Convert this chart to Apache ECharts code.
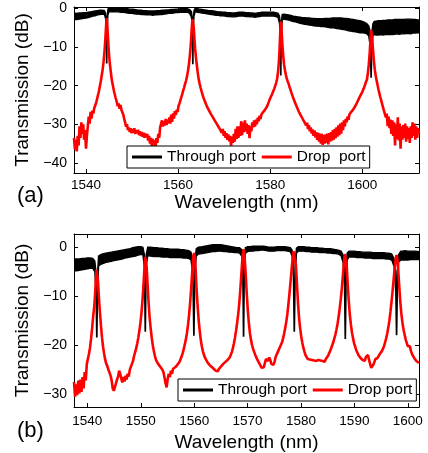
<!DOCTYPE html>
<html><head><meta charset="utf-8">
<script src="https://cdn.jsdelivr.net/npm/echarts@6/dist/echarts.min.js"></script>
<style>html,body{margin:0;padding:0;background:#fff}#c{width:428px;height:453px}</style>
</head><body><div id="c"></div>
<script>
const FONT = '"Liberation Sans", Arial, Helvetica, sans-serif';
const aXTicks = [1540, 1560, 1580, 1600];
const aYTicks = [-40, -30, -20, -10, 0];
const bXTicks = [1540, 1550, 1560, 1570, 1580, 1590, 1600];
const bYTicks = [-30, -20, -10, 0];
const legendA = ['Through port', 'Drop  port'];
const legendB = ['Through port', 'Drop port'];
const panelLabels = ['(a)', '(b)'];
const xTitle = 'Wavelength (nm)';
const yTitle = 'Transmission (dB)';

// (a) through port: noisy trace read as a band [wavelength nm, upper dB, lower dB]
const aThrough = [
[1537.4,-1.2,-2.9],[1538.0,-1.3,-2.9],[1538.5,-1.2,-2.8],[1539.0,-1.2,-2.7],[1539.5,-1.1,-2.6],[1540.0,-1.1,-2.5],[1540.5,-1.0,-2.4],[1541.0,-0.9,-2.2],
[1541.5,-0.8,-2.0],[1542.0,-0.7,-1.9],[1542.5,-0.6,-1.7],[1543.0,-0.5,-1.6],[1543.5,-0.5,-1.5],[1544.0,-0.6,-1.6],[1544.25,-1.2,-2.6],[1544.42,-3,-6],
[1544.47,-14.1,-14.1],[1544.53,-14.1,-14.1],[1544.58,-3,-6],[1544.75,-0.3,-1.8],[1545.0,0.3,-0.8],[1545.5,0.2,-0.9],[1546.0,0.3,-0.8],[1546.5,0.2,-0.9],
[1547.0,0.2,-0.9],[1547.5,0.1,-1.0],[1548.0,0.1,-1.0],[1548.5,0.0,-1.1],[1549.0,-0.1,-1.2],[1549.5,-0.2,-1.3],[1550.0,-0.2,-1.3],[1550.5,-0.3,-1.4],
[1551.0,-0.4,-1.5],[1551.5,-0.5,-1.5],[1552.0,-0.5,-1.6],[1552.5,-0.6,-1.6],[1553.0,-0.6,-1.7],[1553.5,-0.7,-1.7],[1554.0,-0.7,-1.7],[1554.5,-0.7,-1.8],
[1555.0,-0.7,-1.7],[1555.5,-0.6,-1.7],[1556.0,-0.6,-1.6],[1556.5,-0.5,-1.6],[1557.0,-0.5,-1.5],[1557.5,-0.4,-1.4],[1558.0,-0.4,-1.3],[1558.5,-0.3,-1.3],
[1559.0,-0.3,-1.2],[1559.5,-0.2,-1.1],[1560.0,-0.2,-1.1],[1560.5,-0.1,-1.0],[1561.0,-0.1,-1.0],[1561.5,-0.1,-1.0],[1562.0,-0.1,-1.0],[1562.5,-0.3,-1.3],
[1562.9,-0.8,-2.3],[1563.12,-3,-6],[1563.17,-14.3,-14.3],[1563.23,-14.3,-14.3],[1563.28,-3,-6],[1563.45,-0.6,-2.0],[1563.7,0.0,-0.9],[1564.2,-0.1,-1.0],
[1564.7,-0.2,-1.1],[1565.2,-0.3,-1.2],[1565.7,-0.4,-1.3],[1566.2,-0.5,-1.4],[1566.7,-0.6,-1.5],[1567.2,-0.6,-1.6],[1567.7,-0.7,-1.7],[1568.2,-0.8,-1.8],
[1568.7,-0.9,-1.8],[1569.2,-0.9,-1.9],[1569.7,-1.0,-1.9],[1570.2,-1.0,-2.0],[1570.7,-1.1,-2.1],[1571.2,-1.1,-2.1],[1571.7,-1.2,-2.2],[1572.2,-1.2,-2.2],
[1572.7,-1.1,-2.1],[1573.2,-1.0,-2.0],[1573.7,-1.0,-2.0],[1574.2,-1.0,-2.0],[1574.7,-1.1,-2.1],[1575.2,-1.1,-2.1],[1575.7,-1.2,-2.2],[1576.2,-1.2,-2.2],
[1576.7,-1.3,-2.3],[1577.2,-1.2,-2.2],[1577.7,-1.1,-2.1],[1578.2,-1.0,-2.0],[1578.7,-1.0,-2.0],[1579.2,-1.0,-2.0],[1579.7,-1.0,-2.0],[1580.2,-1.0,-2.0],
[1580.7,-1.0,-2.0],[1581.2,-1.1,-2.1],[1581.7,-1.3,-2.4],[1582.0,-2.0,-3.8],[1582.22,-4,-8],[1582.27,-17.2,-17.2],[1582.33,-17.2,-17.2],[1582.38,-4,-8],
[1582.6,-1.6,-3.0],[1582.9,-1.5,-2.8],[1583.4,-1.6,-2.9],[1584.0,-1.7,-3.0],[1584.5,-1.8,-3.2],[1585.0,-2.0,-3.4],[1585.5,-2.1,-3.5],[1586.0,-2.2,-3.7],
[1586.5,-2.3,-3.9],[1587.0,-2.4,-4.0],[1587.5,-2.4,-4.1],[1588.0,-2.5,-4.2],[1588.5,-2.5,-4.3],[1589.0,-2.6,-4.4],[1589.5,-2.6,-4.5],[1590.0,-2.7,-4.6],
[1590.5,-2.7,-4.6],[1591.0,-2.7,-4.7],[1591.5,-2.7,-4.7],[1592.0,-2.6,-4.8],[1592.5,-2.6,-4.9],[1593.0,-2.6,-5.0],[1593.5,-2.5,-5.0],[1594.0,-2.5,-5.1],
[1594.5,-2.5,-5.2],[1595.0,-2.5,-5.3],[1595.5,-2.5,-5.4],[1596.0,-2.6,-5.5],[1596.5,-2.6,-5.6],[1597.0,-2.7,-5.8],[1597.5,-2.8,-5.9],[1598.0,-2.9,-6.0],
[1598.5,-3.0,-6.1],[1599.0,-3.1,-6.2],[1599.5,-3.2,-6.3],[1600.0,-3.4,-6.3],[1600.5,-3.6,-6.4],[1601.0,-4.0,-6.6],[1601.4,-4.6,-7.2],[1601.72,-6,-10],
[1601.87,-17.8,-17.8],[1601.93,-17.8,-17.8],[1602.08,-6,-10],[1602.3,-4.0,-7.0],[1602.6,-3.4,-6.8],[1603.0,-3.3,-6.9],[1603.5,-3.2,-6.9],[1604.0,-3.2,-6.8],
[1604.5,-3.1,-6.9],[1605.0,-3.1,-6.8],[1605.5,-3.0,-6.8],[1606.0,-3.0,-6.7],[1606.5,-3.0,-6.8],[1607.0,-2.9,-6.7],[1607.5,-2.9,-6.6],[1608.0,-2.9,-6.7],
[1608.5,-2.9,-6.6],[1609.0,-2.9,-6.6],[1609.5,-2.8,-6.5],[1610.0,-2.8,-6.5],[1610.5,-2.8,-6.6],[1611.0,-2.9,-6.4],[1611.5,-2.9,-6.4],[1612.0,-3.0,-6.3],
[1612.3,-3.0,-6.3]
];

// (a) drop port [wavelength nm, dB]
const aDrop = [
[1537.4,-33.5],[1537.6,-36.5],[1537.8,-34],[1538.0,-37],[1538.2,-33],[1538.4,-35.5],[1538.6,-30.5],[1538.8,-33.5],[1539.0,-29.5],[1539.2,-32.5],
[1539.4,-30],[1539.6,-34],[1539.8,-31.5],[1540.0,-36.3],[1540.2,-33],[1540.4,-30.5],[1540.6,-28],[1540.8,-29.8],[1541.0,-26.8],[1541.2,-28.5],
[1541.4,-26.5],[1541.6,-27.2],[1541.8,-25.8],[1542.0,-26.2],[1542.2,-24.5],[1542.4,-24.8],[1542.6,-22.5],[1542.8,-21.5],[1543.0,-20.2],[1543.2,-19],
[1543.4,-17.5],[1543.6,-16],[1543.8,-14],[1544.0,-11.5],[1544.15,-9],[1544.3,-6],[1544.42,-3.5],[1544.5,-2.5],[1544.58,-3.5],[1544.7,-6],
[1544.85,-9],[1545.0,-12],[1545.2,-14.5],[1545.4,-16.5],[1545.6,-18.5],[1545.85,-20],[1546.1,-21.5],[1546.4,-23],[1546.7,-24.3],[1546.9,-25.3],
[1547.1,-24.6],[1547.3,-26],[1547.5,-25],[1547.7,-26.3],[1547.9,-25.8],[1548.1,-27.5],[1548.3,-28.6],[1548.5,-29.5],[1548.7,-30.6],[1548.9,-30],
[1549.1,-31.5],[1549.3,-30.8],[1549.5,-32],[1549.7,-31],[1549.9,-32.3],[1550.1,-31.2],[1550.3,-32.2],[1550.5,-31],[1550.7,-32.5],[1550.9,-31.5],
[1551.1,-32.3],[1551.3,-31.4],[1551.5,-32.8],[1551.7,-31.8],[1551.9,-33],[1552.1,-32],[1552.3,-33.2],[1552.5,-32.2],[1552.7,-33.5],[1552.9,-32.4],
[1553.1,-33.3],[1553.3,-32.5],[1553.5,-34.2],[1553.7,-33],[1553.9,-35],[1554.1,-33.5],[1554.3,-35.8],[1554.5,-33.8],[1554.7,-35.5],[1554.9,-34.2],
[1555.1,-36],[1555.3,-33.6],[1555.5,-34.8],[1555.7,-32.5],[1555.9,-33.5],[1556.1,-30.8],[1556.3,-31.2],[1556.5,-29],[1556.7,-30.6],[1556.9,-29.2],
[1557.1,-30.3],[1557.3,-28.6],[1557.5,-30.2],[1557.7,-28.8],[1557.9,-29.8],[1558.1,-28.2],[1558.3,-29.8],[1558.5,-27.5],[1558.7,-29.4],[1558.9,-27.2],
[1559.1,-28.5],[1559.3,-26.6],[1559.5,-27.6],[1559.7,-26.2],[1559.9,-26.8],[1560.1,-25.2],[1560.3,-24.6],[1560.5,-23.8],[1560.7,-23],[1560.9,-22.2],
[1561.1,-21.3],[1561.3,-20.5],[1561.5,-19.6],[1561.7,-18.8],[1561.9,-17.8],[1562.1,-16.5],[1562.3,-15],[1562.5,-12.8],[1562.7,-10.2],[1562.85,-7.5],
[1563.0,-4.5],[1563.12,-2.8],[1563.2,-2.5],[1563.28,-3],[1563.4,-5],[1563.55,-8],[1563.7,-10.5],[1563.9,-13],[1564.1,-15],[1564.3,-17],
[1564.5,-18.5],[1564.7,-19.6],[1564.9,-20.6],[1565.1,-21.5],[1565.3,-22.3],[1565.5,-23.1],[1565.7,-23.7],[1565.9,-24.3],[1566.1,-24.8],[1566.3,-25.5],
[1566.5,-25.8],[1566.7,-26.4],[1566.9,-26.6],[1567.1,-27.3],[1567.3,-27.2],[1567.5,-28.1],[1567.7,-28.0],[1567.9,-28.9],[1568.1,-28.7],[1568.3,-29.7],
[1568.5,-29.4],[1568.7,-30.5],[1568.9,-30.1],[1569.1,-31.3],[1569.3,-30.8],[1569.5,-32.2],[1569.7,-31.2],[1569.9,-33],[1570.1,-31.8],[1570.3,-33.5],
[1570.5,-32.3],[1570.7,-34],[1570.9,-32.6],[1571.1,-34.4],[1571.3,-33],[1571.5,-35.5],[1571.7,-33.2],[1571.9,-34.8],[1572.1,-32.5],[1572.3,-34.5],
[1572.5,-31.2],[1572.7,-33.8],[1572.9,-30.5],[1573.1,-33.5],[1573.3,-30.5],[1573.5,-33],[1573.7,-29.2],[1573.9,-32.8],[1574.1,-29.6],[1574.3,-32],
[1574.5,-29],[1574.7,-31.8],[1574.9,-29.8],[1575.1,-32.5],[1575.3,-30.2],[1575.5,-33.6],[1575.7,-30.5],[1575.9,-31.8],[1576.1,-29.5],[1576.3,-30.8],
[1576.5,-29],[1576.7,-30.6],[1576.9,-28.8],[1577.1,-30],[1577.3,-28.3],[1577.5,-29.2],[1577.7,-27.8],[1577.9,-28.6],[1578.1,-27.4],[1578.3,-27.9],
[1578.5,-26.8],[1578.7,-27],[1578.9,-26.2],[1579.1,-26.2],[1579.3,-25.4],[1579.5,-24.8],[1579.7,-24.2],[1579.9,-23.5],[1580.1,-23],[1580.3,-22.5],
[1580.5,-21.9],[1580.7,-21.3],[1580.9,-20.7],[1581.1,-20],[1581.3,-19.2],[1581.5,-18.2],[1581.7,-16.5],[1581.9,-13.5],[1582.05,-10],[1582.15,-7],
[1582.25,-4],[1582.32,-3.4],[1582.4,-4],[1582.5,-6.5],[1582.65,-9.5],[1582.8,-12],[1583.0,-14.5],[1583.2,-16],[1583.4,-17.2],[1583.6,-18.2],
[1583.8,-18.9],[1584.0,-19.5],[1584.2,-20.4],[1584.4,-21],[1584.6,-21.8],[1584.8,-22.5],[1585.0,-23.2],[1585.2,-23.7],[1585.4,-24.4],[1585.6,-24.8],
[1585.8,-25.6],[1586.0,-25.8],[1586.2,-26.7],[1586.4,-26.8],[1586.6,-27.6],[1586.8,-27.6],[1587.0,-28.5],[1587.2,-28.3],[1587.4,-29.4],[1587.6,-29.0],
[1587.8,-30.3],[1588.0,-29.6],[1588.2,-31.2],[1588.4,-30.2],[1588.6,-31.8],[1588.8,-30.8],[1589.0,-32.4],[1589.2,-31.3],[1589.4,-33],[1589.6,-31.6],
[1589.8,-33.4],[1590.0,-32],[1590.2,-34],[1590.4,-32.2],[1590.6,-34.5],[1590.8,-32.4],[1591.0,-35],[1591.2,-32.5],[1591.4,-35.3],[1591.6,-32.8],
[1591.8,-35],[1592.0,-32.6],[1592.2,-34.8],[1592.4,-32.4],[1592.6,-35.2],[1592.8,-32.3],[1593.0,-34.5],[1593.2,-32],[1593.4,-34.2],[1593.6,-31.5],
[1593.8,-34],[1594.0,-31.2],[1594.2,-33.6],[1594.4,-30.8],[1594.6,-33.2],[1594.8,-30.3],[1595.0,-32.8],[1595.2,-29.8],[1595.4,-32.4],[1595.6,-29.5],
[1595.8,-31.5],[1596.0,-29],[1596.2,-30.5],[1596.4,-28.6],[1596.6,-29.5],[1596.8,-28],[1597.0,-28.8],[1597.2,-27.4],[1597.4,-27.8],[1597.6,-26.8],
[1597.8,-26.9],[1598.0,-26.2],[1598.2,-26],[1598.4,-25.4],[1598.6,-25],[1598.8,-24.5],[1599.0,-24],[1599.2,-23.5],[1599.4,-23],[1599.6,-22.5],
[1599.8,-22],[1600.0,-21.6],[1600.2,-21.0],[1600.4,-20.4],[1600.6,-19.7],[1600.8,-19],[1601.0,-18.4],[1601.2,-16.8],[1601.4,-14.5],[1601.6,-11.5],
[1601.75,-8.5],[1601.88,-5.6],[1601.95,-5.1],[1602.02,-5.6],[1602.15,-8],[1602.3,-10.5],[1602.5,-13.5],[1602.7,-15.8],[1602.9,-17.4],[1603.1,-18.7],
[1603.3,-19.8],[1603.5,-21],[1603.7,-22],[1603.9,-23],[1604.1,-23.8],[1604.3,-24.8],[1604.5,-25.2],[1604.7,-26.5],[1604.9,-26],[1605.1,-28.2],
[1605.3,-27.2],[1605.5,-30.5],[1605.7,-28],[1605.9,-31],[1606.1,-28.8],[1606.3,-32.5],[1606.5,-29],[1606.7,-33],[1606.9,-29.5],[1607.1,-35.5],
[1607.3,-30],[1607.5,-33.8],[1607.7,-28.2],[1607.9,-34.2],[1608.1,-29.8],[1608.3,-36.3],[1608.5,-30.5],[1608.7,-34],[1608.9,-30.2],[1609.1,-33.5],
[1609.3,-29.8],[1609.5,-34.5],[1609.7,-30.5],[1609.9,-33.8],[1610.1,-31],[1610.3,-34.8],[1610.5,-30.5],[1610.7,-33.5],[1610.9,-29.5],[1611.1,-33],
[1611.3,-29.8],[1611.5,-34],[1611.7,-30.5],[1611.9,-33.5],[1612.1,-31],[1612.3,-32.5]
];

// (b) through port band [wavelength nm, upper dB, lower dB]
const bThrough = [
[1537.5,-2.4,-4.8],[1538.0,-2.4,-4.8],[1538.5,-2.4,-4.7],[1539.0,-2.3,-4.6],[1539.5,-2.3,-4.5],[1540.0,-2.2,-4.4],[1540.5,-2.2,-4.3],[1541.0,-2.3,-4.3],
[1541.4,-2.8,-5.0],[1541.62,-5,-9],[1541.74,-18.3,-18.3],[1541.8,-18.3,-18.3],[1541.92,-5,-9],[1542.1,-1.8,-3.8],[1542.5,-1.5,-3.5],[1543.0,-1.3,-3.3],
[1543.5,-1.2,-3.1],[1544.0,-1.1,-3.0],[1544.5,-1.0,-2.9],[1545.0,-0.9,-2.7],[1545.5,-0.8,-2.6],[1546.0,-0.7,-2.5],[1546.5,-0.6,-2.4],[1547.0,-0.5,-2.2],
[1547.5,-0.4,-2.1],[1548.0,-0.3,-2.0],[1548.5,-0.1,-1.9],[1549.0,0.0,-1.8],[1549.5,0.1,-1.6],[1550.0,0.1,-1.5],[1550.4,0.0,-1.5],[1550.68,-1.5,-4],
[1550.82,-17.1,-17.1],[1550.88,-17.1,-17.1],[1551.02,-1.5,-4],[1551.3,0.0,-1.7],[1551.8,0.0,-1.8],[1552.5,-0.1,-1.9],[1553.0,-0.1,-1.9],[1553.5,-0.2,-1.9],
[1554.0,-0.2,-2.0],[1554.5,-0.3,-2.0],[1555.0,-0.3,-2.0],[1555.5,-0.4,-2.1],[1556.0,-0.4,-2.1],[1556.5,-0.4,-2.1],[1557.0,-0.4,-2.1],[1557.5,-0.5,-2.1],
[1558.0,-0.5,-2.2],[1558.5,-0.6,-2.2],[1559.0,-0.7,-2.3],[1559.4,-1.0,-2.6],[1559.75,-2.5,-5.5],[1559.92,-17.9,-17.9],[1559.98,-17.9,-17.9],[1560.15,-2.5,-5],
[1560.4,-0.3,-1.8],[1560.8,0.0,-1.4],[1561.5,0.1,-1.3],[1562.0,0.2,-1.2],[1562.5,0.3,-1.1],[1563.0,0.4,-1.0],[1563.5,0.5,-0.9],[1564.0,0.5,-0.9],
[1564.5,0.5,-0.8],[1565.0,0.5,-0.8],[1565.5,0.4,-0.9],[1566.0,0.3,-0.9],[1566.5,0.2,-1.0],[1567.0,0.1,-1.0],[1567.5,0.0,-1.1],[1568.0,-0.1,-1.1],
[1568.5,-0.1,-1.2],[1568.9,-0.5,-1.8],[1569.1,-2.5,-5],[1569.22,-18.1,-18.1],[1569.28,-18.1,-18.1],[1569.4,-2.5,-5],[1569.6,-0.1,-1.2],[1570.0,0.1,-0.9],
[1570.5,0.1,-0.8],[1571.0,0.2,-0.8],[1571.5,0.2,-0.7],[1572.0,0.2,-0.7],[1572.5,0.2,-0.6],[1573.0,0.2,-0.6],[1573.5,0.1,-0.7],[1574.0,0.0,-0.8],
[1574.5,0.0,-0.8],[1575.0,0.0,-0.8],[1575.5,0.1,-0.7],[1576.0,0.1,-0.7],[1576.5,0.1,-0.7],[1577.0,0.1,-0.7],[1577.5,0.0,-0.8],[1578.0,-0.1,-0.9],
[1578.35,-0.6,-1.8],[1578.58,-3,-6],[1578.72,-17.1,-17.1],[1578.78,-17.1,-17.1],[1578.92,-3,-6],[1579.15,-0.2,-1.2],[1579.5,0.1,-0.8],[1580.0,0.1,-0.8],
[1580.5,0.1,-0.8],[1581.0,0.0,-0.9],[1581.5,0.0,-0.9],[1582.0,-0.1,-1.0],[1582.5,-0.1,-1.0],[1583.0,-0.1,-1.0],[1583.5,-0.2,-1.1],[1584.0,-0.2,-1.1],
[1584.5,-0.3,-1.1],[1585.0,-0.3,-1.2],[1585.5,-0.3,-1.2],[1586.0,-0.4,-1.3],[1586.5,-0.5,-1.3],[1587.0,-0.6,-1.4],[1587.5,-0.8,-1.7],[1587.9,-1.6,-3.2],
[1588.15,-4,-8],[1588.27,-18.6,-18.6],[1588.33,-18.6,-18.6],[1588.45,-4,-8],[1588.65,-1.2,-2.6],[1589.0,-0.8,-2.0],[1589.5,-0.8,-2.0],[1590.0,-0.8,-2.0],
[1590.5,-0.9,-2.1],[1591.0,-0.9,-2.1],[1591.5,-1.0,-2.1],[1592.0,-1.0,-2.2],[1592.5,-1.0,-2.2],[1593.0,-1.0,-2.2],[1593.5,-1.1,-2.3],[1594.0,-1.1,-2.3],
[1594.5,-1.1,-2.3],[1595.0,-1.1,-2.3],[1595.5,-1.1,-2.3],[1596.0,-1.2,-2.4],[1596.5,-1.2,-2.4],[1597.0,-1.4,-2.6],[1597.45,-2.4,-4],[1597.75,-5,-9],
[1597.87,-17.8,-17.8],[1597.93,-17.8,-17.8],[1598.05,-5,-9],[1598.3,-1.5,-3],[1598.7,-0.8,-2.6],[1599.0,-0.8,-2.6],[1599.5,-0.7,-2.6],[1600.0,-0.8,-2.6],
[1600.5,-0.8,-2.5],[1601.0,-0.8,-2.5],[1601.5,-0.8,-2.5],[1602.1,-0.9,-2.5]
];

// (b) drop port [wavelength nm, dB]
const bDrop = [
[1537.5,-27.5],[1537.7,-30.5],[1537.9,-28],[1538.1,-30.2],[1538.3,-27.2],[1538.5,-29.8],[1538.7,-27],[1538.9,-29.5],[1539.1,-26.5],[1539.3,-28.8],
[1539.5,-25.5],[1539.7,-27.2],[1539.9,-23.8],[1540.1,-24.2],[1540.3,-21.8],[1540.5,-20.5],[1540.7,-18.6],[1540.9,-16.5],[1541.1,-14],[1541.3,-12],
[1541.45,-9.5],[1541.6,-6.5],[1541.72,-4.6],[1541.8,-4.3],[1541.88,-4.6],[1542.0,-7],[1542.15,-10],[1542.35,-13.2],[1542.55,-16],[1542.75,-18.5],
[1542.95,-20.4],[1543.15,-21.8],[1543.35,-23],[1543.55,-23.8],[1543.75,-24.3],[1543.95,-25],[1544.15,-25.3],[1544.35,-26.2],[1544.55,-27.2],[1544.75,-28.8],
[1544.95,-29.3],[1545.15,-28.6],[1545.35,-27.8],[1545.55,-27],[1545.75,-26.4],[1545.95,-25.2],[1546.15,-25.8],[1546.35,-26.8],[1546.55,-27.6],[1546.75,-26.5],
[1546.95,-27.4],[1547.15,-26.2],[1547.35,-27],[1547.55,-25.8],[1547.75,-26.4],[1547.95,-25],[1548.15,-24.8],[1548.35,-23.8],[1548.55,-23.2],[1548.75,-22.2],
[1548.95,-21.4],[1549.15,-20.6],[1549.35,-19.6],[1549.55,-18.4],[1549.75,-17],[1549.95,-15.3],[1550.15,-13.2],[1550.35,-10.5],[1550.55,-7],[1550.7,-4],
[1550.82,-2],[1550.9,-1.6],[1550.98,-2],[1551.1,-4],[1551.25,-7],[1551.45,-11],[1551.65,-14.2],[1551.85,-16.5],[1552.05,-18.4],[1552.25,-20],
[1552.45,-21.2],[1552.65,-22.2],[1552.85,-23],[1553.05,-23.4],[1553.25,-23.8],[1553.45,-24.1],[1553.65,-24.4],[1553.85,-24.2],[1554.05,-25],[1554.25,-25.5],
[1554.45,-26.6],[1554.65,-27.8],[1554.85,-28.6],[1555.05,-26.8],[1555.25,-25.8],[1555.45,-26.5],[1555.65,-25.2],[1555.85,-25.8],[1556.05,-24.8],[1556.25,-25.2],
[1556.45,-24.5],[1556.65,-24.8],[1556.85,-24],[1557.05,-24.2],[1557.25,-23.4],[1557.45,-23.2],[1557.65,-22.3],[1557.85,-21.6],[1558.05,-20.8],[1558.25,-19.8],
[1558.45,-18.8],[1558.65,-17.5],[1558.85,-15.8],[1559.05,-13.8],[1559.25,-11.3],[1559.45,-8.2],[1559.65,-4.8],[1559.85,-1.8],[1560.0,-1.2],[1560.15,-2],
[1560.3,-5],[1560.45,-8.5],[1560.65,-12],[1560.85,-15],[1561.05,-17.2],[1561.25,-19],[1561.45,-20.3],[1561.65,-21.3],[1561.85,-22],[1562.05,-22.6],
[1562.25,-23],[1562.45,-23.4],[1562.65,-23.6],[1562.85,-24],[1563.05,-24.2],[1563.25,-24.4],[1563.45,-24.7],[1563.65,-24.8],[1563.85,-25],[1564.05,-25.2],
[1564.25,-25],[1564.45,-25.3],[1564.65,-24.8],[1564.85,-24.6],[1565.05,-24.3],[1565.25,-24],[1565.45,-23.8],[1565.65,-23.5],[1565.85,-23.4],[1566.05,-23.2],
[1566.25,-23],[1566.45,-22.8],[1566.65,-22.5],[1566.85,-22],[1567.05,-21.4],[1567.25,-20.6],[1567.45,-19.6],[1567.65,-18.4],[1567.85,-17],[1568.05,-15.4],
[1568.25,-13.6],[1568.45,-11.4],[1568.65,-8.6],[1568.85,-5.2],[1569.05,-2],[1569.25,-0.4],[1569.45,-2],[1569.65,-5.5],[1569.85,-9.5],[1570.05,-13],
[1570.25,-15.6],[1570.45,-17.6],[1570.65,-19],[1570.85,-20],[1571.05,-20.8],[1571.25,-21.4],[1571.45,-22],[1571.65,-22.5],[1571.85,-23],[1572.05,-23.4],
[1572.25,-23.8],[1572.45,-24.2],[1572.65,-24.6],[1572.85,-24.2],[1573.05,-24.5],[1573.25,-23.6],[1573.45,-22.8],[1573.65,-22.6],[1573.85,-23.2],[1574.05,-22.5],
[1574.25,-23],[1574.45,-23.8],[1574.65,-24.2],[1574.85,-24],[1575.05,-23.4],[1575.25,-22.4],[1575.45,-22],[1575.65,-21.4],[1575.85,-21],[1576.05,-20.4],
[1576.25,-20],[1576.45,-19.4],[1576.65,-18.6],[1576.85,-17.6],[1577.05,-16.5],[1577.25,-15.2],[1577.45,-13.6],[1577.65,-11.6],[1577.85,-9.4],[1578.05,-7],
[1578.25,-4.5],[1578.45,-2.2],[1578.6,-0.8],[1578.75,-0.5],[1578.9,-1.2],[1579.05,-3.5],[1579.25,-7.5],[1579.45,-11.5],[1579.65,-14.5],[1579.85,-16.6],
[1580.05,-18.2],[1580.25,-19.5],[1580.45,-20.5],[1580.65,-21.3],[1580.85,-22],[1581.05,-22.4],[1581.25,-22.8],[1581.45,-22.5],[1581.65,-22.9],[1581.85,-22.6],
[1582.05,-23],[1582.25,-22.6],[1582.45,-23.1],[1582.65,-22.7],[1582.85,-23.2],[1583.05,-22.8],[1583.25,-23],[1583.45,-22.6],[1583.65,-23.1],[1583.85,-22.7],
[1584.05,-23.2],[1584.25,-22.8],[1584.45,-23.4],[1584.65,-22.8],[1584.85,-23],[1585.05,-22.2],[1585.25,-21.8],[1585.45,-21.2],[1585.65,-20.6],[1585.85,-20],
[1586.05,-19.4],[1586.25,-18.6],[1586.45,-17.8],[1586.65,-16.8],[1586.85,-15.6],[1587.05,-14.2],[1587.25,-12.5],[1587.45,-10.6],[1587.65,-8.4],[1587.85,-5.8],
[1588.05,-3.2],[1588.2,-1.4],[1588.3,-1.0],[1588.4,-1.4],[1588.55,-3.5],[1588.75,-7.5],[1588.95,-11],[1589.15,-13.8],[1589.35,-15.8],[1589.55,-17.4],
[1589.75,-18.6],[1589.95,-19.6],[1590.15,-20.3],[1590.35,-21],[1590.55,-21.5],[1590.75,-22],[1590.95,-22.3],[1591.15,-22.6],[1591.35,-22.4],[1591.55,-23],
[1591.75,-22.6],[1591.95,-23.2],[1592.15,-22.4],[1592.35,-22.8],[1592.55,-22],[1592.75,-23],[1592.95,-23.8],[1593.15,-24.6],[1593.35,-24.8],[1593.55,-24],
[1593.75,-23.4],[1593.95,-22.8],[1594.15,-23.2],[1594.35,-22.6],[1594.55,-22.2],[1594.75,-21.8],[1594.95,-21.6],[1595.15,-21.2],[1595.35,-20.8],[1595.55,-20.2],
[1595.75,-19.4],[1595.95,-18.6],[1596.15,-17.6],[1596.35,-16.4],[1596.55,-15],[1596.75,-13.2],[1596.95,-11.2],[1597.15,-9],[1597.35,-6.6],[1597.55,-4.2],
[1597.75,-2.2],[1597.9,-1.6],[1598.05,-2.4],[1598.2,-4.5],[1598.4,-8],[1598.6,-11.2],[1598.8,-13.6],[1599.0,-15.4],[1599.2,-16.8],[1599.4,-17.8],
[1599.6,-18.8],[1599.8,-19.5],[1600.0,-20.2],[1600.2,-20.6],[1600.4,-20.2],[1600.6,-21.2],[1600.8,-21.8],[1601.0,-21.4],[1601.2,-22.6],[1601.4,-22.2],
[1601.6,-23.2],[1601.8,-22.8],[1602.1,-23.6]
];

const minusFmt = v => (v < 0 ? '\u2212' + Math.abs(v) : String(v));
const plainFmt = v => String(v);
const txt = (size) => ({ color: '#000', fontFamily: FONT, fontSize: size });
const lineBlack = { color: '#000', width: 1 };

function xAxes(grid, min, max, ticks, labelMargin, nameGap) {
  return [
    { gridIndex: grid, type: 'value', min, max, position: 'bottom',
      axisLine: { onZero: false, lineStyle: lineBlack },
      axisTick: { inside: true, length: 4, customValues: ticks, lineStyle: lineBlack },
      axisLabel: { customValues: ticks, margin: labelMargin, formatter: plainFmt, ...txt(13.5) },
      splitLine: { show: false },
      name: xTitle, nameLocation: 'middle', nameGap, nameTextStyle: txt(19) },
    { gridIndex: grid, type: 'value', min, max, position: 'top',
      axisLine: { onZero: false, lineStyle: lineBlack },
      axisTick: { inside: true, length: 4, customValues: ticks, lineStyle: lineBlack },
      axisLabel: { show: false }, splitLine: { show: false } }
  ];
}
function yAxes(grid, min, max, ticks) {
  return [
    { gridIndex: grid, type: 'value', min, max, position: 'left',
      axisLine: { onZero: false, lineStyle: lineBlack },
      axisTick: { inside: true, length: 4, customValues: ticks, lineStyle: lineBlack },
      axisLabel: { customValues: ticks, margin: 7, formatter: minusFmt, ...txt(14) },
      splitLine: { show: false },
      name: yTitle, nameLocation: 'middle', nameGap: 36, nameTextStyle: txt(19) },
    { gridIndex: grid, type: 'value', min, max, position: 'right',
      axisLine: { onZero: false, lineStyle: lineBlack },
      axisTick: { inside: true, length: 4, customValues: ticks, lineStyle: lineBlack },
      axisLabel: { show: false }, splitLine: { show: false } }
  ];
}
function legend(names, left, top) {
  return { data: names, left, top, orient: 'horizontal', icon: 'rect', itemWidth: 30, itemHeight: 3,
    itemGap: 6, borderColor: '#000', borderWidth: 1, borderRadius: 0, backgroundColor: '#fff',
    padding: [3, 4, 3, 5], selectedMode: false, textStyle: txt(15.5) };
}
function line(name, data, xi, yi, color, width, z) {
  return { type: 'line', name, data, xAxisIndex: xi, yAxisIndex: yi, showSymbol: false, symbol: 'none',
    sampling: null, clip: true, z, lineStyle: { color, width }, itemStyle: { color }, emphasis: { disabled: true } };
}
// noisy band drawn as a polygon through the axes' own scales (upper edge forward, lower edge back)
function band(name, rows, xi, yi, z) {
  return { type: 'custom', name, xAxisIndex: xi, yAxisIndex: yi, z,
    data: [[rows[0][0], rows[0][1]]], itemStyle: { color: '#000' }, silent: true,
    renderItem: (params, api) => {
      const pts = [];
      for (let i = 0; i < rows.length; i++) pts.push(api.coord([rows[i][0], rows[i][1]]));
      for (let i = rows.length - 1; i >= 0; i--) pts.push(api.coord([rows[i][0], rows[i][2]]));
      const cs = params.coordSys;
      return { type: 'polygon', shape: { points: pts },
        style: { fill: '#000', stroke: '#000', lineWidth: 1.4 },
        clipPath: { type: 'rect', shape: { x: cs.x, y: cs.y, width: cs.width, height: cs.height } } };
    } };
}

const chart = echarts.init(document.getElementById('c'), null, { renderer: 'canvas' });
chart.setOption({
  animation: false,
  backgroundColor: '#fff',
  grid: [
    { left: 74, top: 7, width: 345, height: 166, containLabel: false },
    { left: 74, top: 234, width: 345, height: 173, containLabel: false }
  ],
  xAxis: [...xAxes(0, 1537.4, 1612.3, aXTicks, 5, 20), ...xAxes(1, 1537.5, 1602.1, bXTicks, 7, 26)],
  yAxis: [...yAxes(0, -42.6, 0.35, aYTicks), ...yAxes(1, -32.6, 2.7, bYTicks)],
  legend: [legend(legendA, 127, 146), legend(legendB, 178, 379)],
  graphic: [
    { type: 'text', left: 17, top: 185, style: { text: panelLabels[0], font: '22px ' + FONT, fill: '#000' } },
    { type: 'text', left: 17, top: 420, style: { text: panelLabels[1], font: '22px ' + FONT, fill: '#000' } }
  ],
  series: [
    band('Through port', aThrough, 0, 0, 2),
    line(legendA[1], aDrop, 0, 0, '#ff0000', 2.6, 3),
    band('Through port', bThrough, 2, 2, 2),
    line(legendB[1], bDrop, 2, 2, '#ff0000', 2.6, 3)
  ]
});
</script></body></html>
